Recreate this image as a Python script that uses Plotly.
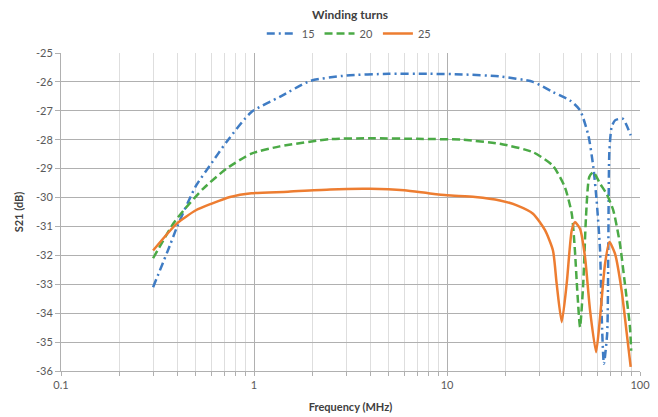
import plotly.graph_objects as go

# Frequency (MHz) and S21 (dB)
freq_15 = [0.3, 0.367, 0.4, 0.5, 0.59, 0.72, 0.97, 1.36, 1.95, 3, 5, 8, 12, 18.8, 27.9,
           35.4, 43.4, 48.9, 54, 57.3, 59.6, 62.1, 63.3, 65, 67.6, 68.5, 69.4, 71.3,
           74.2, 81.3, 89.5]
s21_15 = [-33.1, -31.65, -31.0, -29.6, -28.9, -28.08, -27.04, -26.52, -25.97, -25.78,
          -25.72, -25.72, -25.74, -25.81, -26.0, -26.35, -26.64, -26.98, -27.85, -28.94,
          -30.1, -31.83, -34.1, -35.75, -34.7, -31.8, -28.4, -27.56, -27.33, -27.27, -27.85]

freq_20 = [0.3, 0.382, 0.44, 0.546, 0.72, 0.97, 1.36, 2.48, 4, 7, 12, 18.8, 27.9, 35.4,
           40.8, 44.3, 46, 47.3, 48.9, 50.8, 52.5, 54.6, 57.3, 62.1, 67.1, 72.7, 78.7,
           83.5, 88.7, 90]
s21_20 = [-32.1, -30.9, -30.38, -29.69, -29.0, -28.48, -28.23, -27.98, -27.95, -27.97,
          -28.0, -28.14, -28.43, -28.9, -29.64, -30.56, -31.83, -33.21, -34.48, -32.98,
          -30.67, -29.29, -29.12, -29.52, -29.87, -30.44, -31.6, -32.98, -34.48, -35.3]

freq_25 = [0.3, 0.398, 0.5, 0.604, 0.751, 0.97, 1.5, 2.48, 4, 6, 8, 10, 14, 18.8, 23,
           27.9, 32.2, 35.4, 37, 39.3, 41.7, 44.3, 46, 48.9, 51.9, 55.1, 59.2, 62.1,
           65.9, 69.4, 74.2, 80.3, 85.4, 89.5]
s21_25 = [-31.83, -30.9, -30.44, -30.21, -29.98, -29.85, -29.8, -29.72, -29.7, -29.75,
          -29.85, -29.92, -29.98, -30.1, -30.27, -30.56, -31.13, -31.83, -32.98, -34.31,
          -32.98, -31.13, -30.85, -31.08, -32.06, -33.9, -35.35, -34.13, -32.29, -31.54,
          -31.94, -33.21, -34.71, -35.86]

x_tickvals = [0.1, 1, 10, 100]
x_ticktext = ["0.1", "1", "10", "100"]
y_tickvals = [-25, -26, -27, -28, -29, -30, -31, -32, -33, -34, -35, -36]
y_ticktext = ["-25", "-26", "-27", "-28", "-29", "-30", "-31", "-32", "-33", "-34", "-35", "-36"]

series = [
    ("15", freq_15, s21_15, "#3F7CC4", "8px,4px,2px,4px"),
    ("20", freq_20, s21_20, "#4BAA46", "8px,4px"),
    ("25", freq_25, s21_25, "#ED7D31", "solid"),
]

fig = go.Figure()
for name, fx, fy, color, dash in series:
    fig.add_trace(go.Scatter(
        x=fx, y=fy, name=name, mode="lines",
        line=dict(color=color, width=2.5, dash=dash, shape="spline", smoothing=0.6),
    ))

font_family = "Lato, Open Sans, sans-serif"
fig.update_layout(
    width=650, height=409,
    margin=dict(l=53, r=18, t=45, b=46),
    paper_bgcolor="white", plot_bgcolor="white",
    font=dict(family=font_family, size=11, color="#595959"),
    legend=dict(
        orientation="h", xref="paper", x=0.497, xanchor="center",
        yref="container", y=0.973, yanchor="top",
        font=dict(size=11, color="#595959"),
        itemwidth=30, tracegroupgap=0,
    ),
    annotations=[dict(
        text="<b>Winding turns</b>", xref="paper", yref="paper",
        x=0.499, y=1.12, xanchor="center", yanchor="middle", showarrow=False,
        font=dict(size=12, color="#404040"),
    )],
)
fig.update_xaxes(
    type="log", range=[-1, 2], tickvals=x_tickvals, ticktext=x_ticktext,
    showgrid=True, gridcolor="#b0b0b0", gridwidth=1,
    minor=dict(dtick="D1", showgrid=True, gridcolor="#dedede",
               ticks="outside", ticklen=4, tickcolor="#b0b0b0"),
    ticks="outside", ticklen=4, tickcolor="#b0b0b0",
    showline=True, linecolor="#b0b0b0", zeroline=False, automargin=False,
    title=dict(text="<b>Frequency (MHz)</b>", font=dict(size=11, color="#404040"), standoff=13),
)
fig.update_yaxes(
    range=[-36, -25], tickvals=y_tickvals, ticktext=y_ticktext,
    showgrid=True, gridcolor="#b0b0b0", gridwidth=1,
    ticks="outside", ticklen=5, tickcolor="#b0b0b0",
    showline=True, linecolor="#b0b0b0", zeroline=False, automargin=False,
    title=dict(text="<b>S21 (dB)</b>", font=dict(size=11, color="#404040"), standoff=10),
)

fig.write_html("out.html")
